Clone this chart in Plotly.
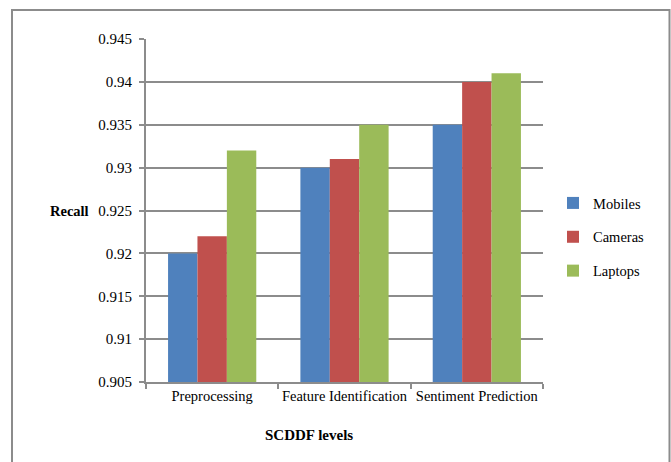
import plotly.graph_objects as go

categories = ["Preprocessing", "Feature Identification", "Sentiment Prediction"]
mobiles = [0.920, 0.930, 0.935]
cameras = [0.922, 0.931, 0.940]
laptops = [0.932, 0.935, 0.941]
y_ticks = [0.905, 0.91, 0.915, 0.92, 0.925, 0.93, 0.935, 0.94, 0.945]
y_tick_text = ["0.905", "0.91", "0.915", "0.92", "0.925", "0.93", "0.935", "0.94", "0.945"]

FONT = "Liberation Serif"
GRID = "#8c8c8c"

series = [
    ("Mobiles", mobiles, "#4F81BD"),
    ("Cameras", cameras, "#C0504D"),
    ("Laptops", laptops, "#9BBB59"),
]

fig = go.Figure()
for name, vals, color in series:
    fig.add_trace(go.Bar(
        x=categories, y=vals, name=name, legendgroup=name,
        marker=dict(color=color, line=dict(width=0)),
    ))

W, H = 671, 462
L, R, T, B = 146, 128, 39, 80
pw, ph = W - L - R, H - T - B

def px_x(x):
    return (x - L) / pw

def px_y(y):
    return (H - B - y) / ph

fig.update_layout(
    width=W, height=H,
    margin=dict(l=L, r=R, t=T, b=B, autoexpand=False),
    paper_bgcolor="white", plot_bgcolor="white",
    barmode="group", bargap=1.5 / 4.5, bargroupgap=0,
    font=dict(family=FONT, size=14, color="black"),
    showlegend=True,
    legend=dict(
        xref="container", yref="container",
        x=553 / W, y=1 - 237 / H, xanchor="left", yanchor="middle",
        font=dict(family=FONT, size=14.5, color="black"),
        tracegroupgap=12, itemwidth=30, bgcolor="rgba(0,0,0,0)",
    ),
    xaxis=dict(
        showline=True, linecolor=GRID, linewidth=2,
        ticks="outside", tickson="boundaries", ticklen=5, tickcolor=GRID, tickwidth=2,
        showgrid=False, tickfont=dict(family=FONT, size=14.5),
        tickangle=0, automargin=False,
    ),
    yaxis=dict(
        range=[0.905, 0.945], tickvals=y_ticks, ticktext=y_tick_text,
        showline=True, linecolor=GRID, linewidth=2,
        ticks="outside", ticklen=5, tickcolor=GRID, tickwidth=2,
        showgrid=True, gridcolor=GRID, gridwidth=2,
        zeroline=False, tickfont=dict(family=FONT, size=15),
        ticklabelstandoff=4, automargin=False,
    ),
    annotations=[
        dict(text="<b>Recall</b>", xref="paper", yref="paper",
             x=px_x(69), y=px_y(211), xanchor="center", yanchor="middle",
             showarrow=False, font=dict(family=FONT, size=14.5)),
        dict(text="<b>SCDDF levels</b>", xref="paper", yref="paper",
             x=px_x(309), y=px_y(435), xanchor="center", yanchor="middle",
             showarrow=False, font=dict(family=FONT, size=15)),
    ],
    shapes=[
        dict(type="rect", xref="paper", yref="paper",
             x0=px_x(12), x1=px_x(669.5), y0=px_y(475), y1=px_y(10),
             line=dict(color=GRID, width=2), fillcolor="rgba(0,0,0,0)", layer="below"),
    ],
)

fig.write_html("out.html")
